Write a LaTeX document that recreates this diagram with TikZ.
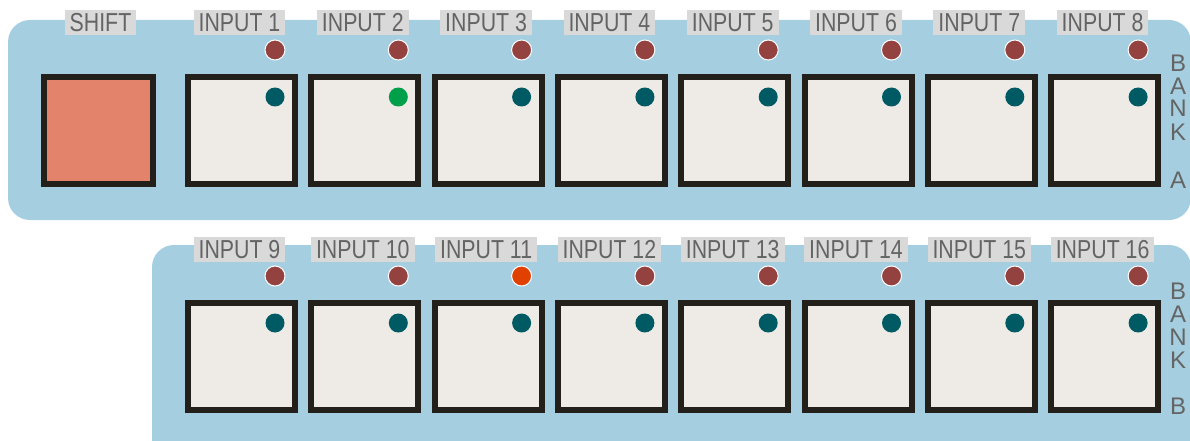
\documentclass[tikz,border=0pt]{standalone}
\usepackage{fontspec}
\setmainfont{Liberation Sans}
\newfontfamily\labfont[FakeStretch=0.82]{Liberation Sans}
\definecolor{panel}{HTML}{A5CFE0}
\definecolor{btnborder}{HTML}{231F1B}
\definecolor{padfill}{HTML}{EEEBE6}
\definecolor{shiftfill}{HTML}{E3836C}
\definecolor{ledred}{HTML}{934240}
\definecolor{ledorange}{HTML}{E04000}
\definecolor{dotteal}{HTML}{005A64}
\definecolor{dotgreen}{HTML}{00A04A}
\definecolor{labgray}{HTML}{D9D9D9}
\definecolor{labtext}{HTML}{646464}
\begin{document}
\begin{tikzpicture}[x=1pt,y=-1pt,
  panelbox/.style={fill=panel, rounded corners=22pt},
  pad/.style={draw=btnborder, line width=6pt, fill=padfill, minimum width=107pt, minimum height=107pt, inner sep=0pt},
  led/.style={circle, draw=white, line width=1pt, minimum size=20pt, inner sep=0pt},
  dot/.style={circle, minimum size=19pt, inner sep=0pt},
  lab/.style={fill=labgray, text=labtext, font=\labfont\fontsize{26}{26}\selectfont, inner xsep=5pt, inner ysep=0pt, minimum height=25pt, text height=18.5pt, text depth=0pt},
  bank/.style={text=labtext, font=\fontsize{24}{24}\selectfont, inner sep=0pt}]
\useasboundingbox (0,0) rectangle (1190,441);
% panels
\fill[panelbox] (8,20) rectangle (1191,220);
\fill[panelbox] (152,245) rectangle (1191,470);
% shift
\node[pad, fill=shiftfill, minimum width=109pt] (p0) at (98.5,130.5) {};
\node[lab] (t0) at (100.5,22.5) {SHIFT};
% bank A
\foreach \i in {1,...,8} {
  \pgfmathsetmacro\xc{241.5+123.3*(\i-1)}
  \ifnum\i=2 \def\dc{dotgreen}\else\def\dc{dotteal}\fi
  \node[pad] (p\i) at (\xc,130.5) {};
  \node[led, fill=ledred] (l\i) at (\xc+33.5,50) {};
  \node[dot, fill=\dc] (d\i) at (\xc+33.5,97) {};
  \node[lab] (t\i) at (\xc-2,22.5) {INPUT \i};
}
% bank B
\foreach \i in {9,...,16} {
  \pgfmathsetmacro\xc{241.5+123.3*(\i-9)}
  \ifnum\i=11 \def\lc{ledorange}\else\def\lc{ledred}\fi
  \node[pad] (p\i) at (\xc,356) {};
  \node[led, fill=\lc] (l\i) at (\xc+33.5,276) {};
  \node[dot, fill=dotteal] (d\i) at (\xc+33.5,323) {};
  \node[lab] (t\i) at (\xc-2,249) {INPUT \i};
}
% bank letters
\node[bank] (ba1) at (1178,63) {B};
\node[bank] (ba2) at (1178,86) {A};
\node[bank] (ba3) at (1178,108) {N};
\node[bank] (ba4) at (1178,132) {K};
\node[bank] (ba5) at (1178,180) {A};
\node[bank] (bb1) at (1178,291) {B};
\node[bank] (bb2) at (1178,314) {A};
\node[bank] (bb3) at (1178,337) {N};
\node[bank] (bb4) at (1178,360) {K};
\node[bank] (bb5) at (1178,406) {B};
\end{tikzpicture}
\end{document}
